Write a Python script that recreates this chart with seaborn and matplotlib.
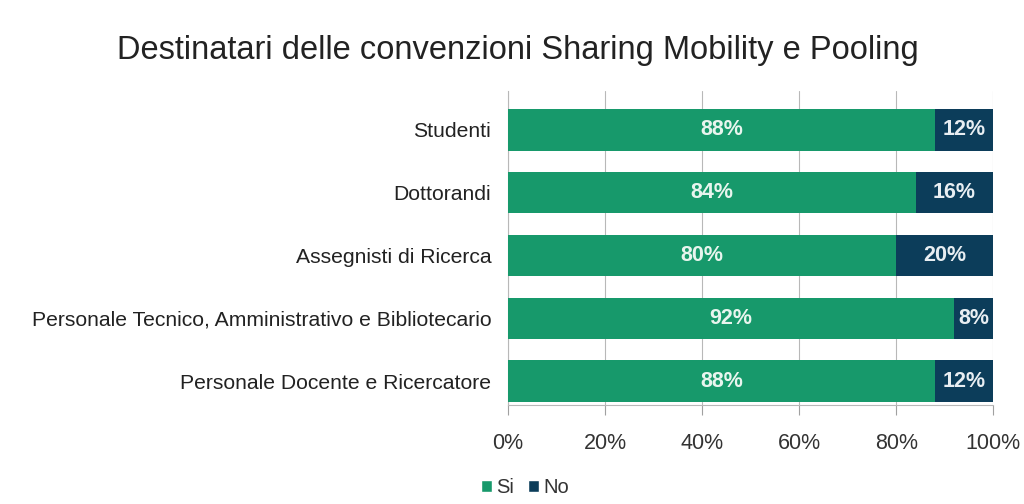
import matplotlib
matplotlib.use("Agg")
import matplotlib.pyplot as plt
import seaborn as sns
import pandas as pd
from matplotlib.patches import Patch

categories = [
    "Studenti",
    "Dottorandi",
    "Assegnisti di Ricerca",
    "Personale Tecnico, Amministrativo e Bibliotecario",
    "Personale Docente e Ricercatore",
]
si_values = [88, 84, 80, 92, 88]
no_values = [12, 16, 20, 8, 12]
tick_values = [0, 20, 40, 60, 80, 100]
tick_labels = ["0%", "20%", "40%", "60%", "80%", "100%"]

GREEN = "#17996b"
NAVY = "#0c3d5a"

sns.set_theme(style="white")
plt.rcParams["font.family"] = ["Liberation Sans", "DejaVu Sans"]

df = pd.DataFrame({"cat": categories, "si": si_values, "no": no_values})
df["total"] = df["si"] + df["no"]

fig = plt.figure(figsize=(10.24, 5.04), dpi=100)
ax = fig.add_axes([0.496, 0.1964, 0.474, 0.623])

# Stacked bars: full length in navy, "Si" share drawn over it in green
sns.barplot(data=df, y="cat", x="total", color=NAVY, orient="h",
            width=0.66, ax=ax, saturation=1, edgecolor="none", zorder=2)
sns.barplot(data=df, y="cat", x="si", color=GREEN, orient="h",
            width=0.66, ax=ax, saturation=1, edgecolor="none", zorder=3)

n = len(categories)
green_bars = ax.patches[n:]

for rect, s, nv in zip(green_bars, si_values, no_values):
    y = rect.get_y() + rect.get_height() / 2
    ax.text(s / 2, y, f"{s}%", ha="center", va="center", color="#e8f5ee",
            fontsize=15.5, fontweight="bold", zorder=4)
    ax.text(s + nv / 2, y, f"{nv}%", ha="center", va="center", color="#e8eef2",
            fontsize=15.5, fontweight="bold", zorder=4)

ax.set_xlim(0, 100)
ax.set_ylim(4.38, -0.62)
ax.set_xticks(tick_values)
ax.set_xticklabels(tick_labels, fontsize=15.5, color="#333333")
ax.tick_params(axis="x", length=7, width=0.8, color="#a0a0a0", pad=13, bottom=True)
ax.tick_params(axis="y", length=0, pad=12, labelsize=15.2, labelcolor="#222222")
ax.set_xlabel("")
ax.set_ylabel("")
ax.xaxis.grid(True, color="#b8b8b8", linewidth=0.8, zorder=0)
ax.set_axisbelow(True)
for side in ["top", "right"]:
    ax.spines[side].set_visible(False)
ax.spines["left"].set_color("#b8b8b8")
ax.spines["bottom"].set_color("#b8b8b8")
ax.spines["left"].set_linewidth(0.8)
ax.spines["bottom"].set_linewidth(0.8)

fig.text(0.506, 0.9, "Destinatari delle convenzioni Sharing Mobility e Pooling",
         ha="center", va="center", fontsize=23.5, color="#222222")

handles = [Patch(facecolor=GREEN, label="Si"), Patch(facecolor=NAVY, label="No")]
fig.legend(handles=handles, loc="center", bbox_to_anchor=(0.513, 0.033), ncol=2,
           frameon=False, fontsize=14.5, handlelength=0.55, handleheight=0.55,
           handletextpad=0.2, columnspacing=0.7, labelcolor="#333333")

fig.savefig("out.png", dpi=100, facecolor="white")
